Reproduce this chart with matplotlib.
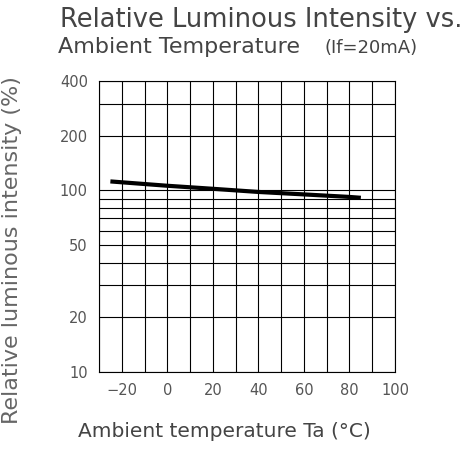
import matplotlib
matplotlib.use("Agg")
import matplotlib.pyplot as plt
from matplotlib.ticker import FixedLocator, FixedFormatter, NullFormatter

temps = [-25, 0, 20, 40, 60, 80, 85]
intensity = [112, 106, 102, 98, 95, 92, 91]
x_ticks = [-20, 0, 20, 40, 60, 80, 100]
y_ticks = [10, 20, 50, 100, 200, 400]
y_minor = [30, 40, 60, 70, 80, 90, 300]

fig = plt.figure(figsize=(4.75, 4.49), dpi=100)
ax = fig.add_axes([0.2084, 0.1715, 0.6232, 0.6481])
ax.plot(temps, intensity, color="black", lw=3, solid_capstyle="butt")
ax.set_yscale("log")
ax.set_xlim(-30, 100)
ax.set_ylim(10, 400)
ax.xaxis.set_major_locator(FixedLocator(x_ticks))
ax.xaxis.set_minor_locator(FixedLocator(list(range(-30, 101, 10))))
ax.yaxis.set_major_locator(FixedLocator(y_ticks))
ax.yaxis.set_major_formatter(FixedFormatter([str(v) for v in y_ticks]))
ax.yaxis.set_minor_locator(FixedLocator(y_minor))
ax.yaxis.set_minor_formatter(NullFormatter())
ax.grid(True, which="both", color="black", lw=0.8)
for s in ax.spines.values():
    s.set_linewidth(0.8)
ax.tick_params(which="both", length=0, labelsize=10.5, colors="#555555", pad=8)
for lab in ax.get_xticklabels() + ax.get_yticklabels():
    lab.set_color("#555555")

fig.text(0.126, 0.955, "Relative Luminous Intensity vs.", fontsize=18.5, ha="left", va="center", color="#444444")
fig.text(0.122, 0.895, "Ambient Temperature", fontsize=16, ha="left", va="center", color="#444444")
fig.text(0.684, 0.893, "(If=20mA)", fontsize=13, ha="left", va="center", color="#444444")
fig.text(0.025, 0.443, "Relative luminous intensity (%)", fontsize=16, rotation=90, ha="center", va="center", color="#666666")
fig.text(0.473, 0.038, "Ambient temperature Ta (°C)", fontsize=14.5, ha="center", va="center", color="#444444")

fig.savefig("out.png", dpi=100)
